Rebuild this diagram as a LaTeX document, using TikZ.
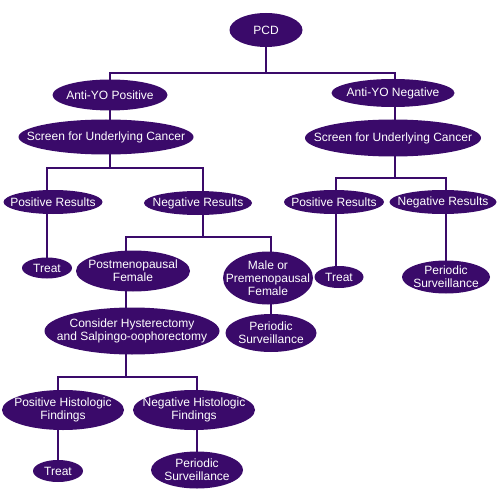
\documentclass[tikz,border=0pt]{standalone}
\usepackage{fontspec}
\setmainfont{Liberation Sans}
\usetikzlibrary{shapes.geometric,backgrounds}
\definecolor{pcdpurple}{HTML}{3A0A6A}
\tikzset{
  bub/.style 2 args={ellipse, fill=pcdpurple, minimum width=#1, minimum height=#2, inner sep=0pt},
  txt/.style={text=white, font=\fontsize{12}{12.8}\selectfont, align=center, inner sep=0pt},
  conn/.style={draw=pcdpurple, line width=1.8pt}
}
\begin{document}
\begin{tikzpicture}[x=1pt,y=-1pt]
\useasboundingbox (0,0) rectangle (500,497);
% level 0
\node[bub={73pt}{34pt}, label={[txt]center:PCD}] (pcd) at (266,30) {};
% level 1
\node[bub={115pt}{31pt}, label={[txt]center:Anti-YO Positive}] (ayp) at (110,95) {};
\node[bub={123pt}{28pt}, label={[txt]center:Anti-YO Negative}] (ayn) at (393,93) {};
% level 2
\node[bub={175pt}{35pt}, label={[txt]center:Screen for Underlying Cancer}] (scl) at (106,137) {};
\node[bub={176pt}{37pt}, label={[txt]center:Screen for Underlying Cancer}] (scr) at (393,138) {};
% level 3 left
\node[bub={99pt}{24pt}, label={[txt]center:Positive Results}] (prl) at (53,202) {};
\node[bub={108pt}{24pt}, label={[txt]center:Negative Results}] (nrl) at (198,203) {};
% level 3 right
\node[bub={100pt}{24pt}, label={[txt]center:Positive Results}] (prr) at (334,202) {};
\node[bub={107pt}{24pt}, label={[txt]center:Negative Results}] (nrr) at (443,202) {};
% level 4
\node[bub={50pt}{21pt}, label={[txt]center:Treat}] (treatl) at (47,268) {};
\node[bub={114pt}{41pt}, label={[txt]center:{Postmenopausal\\Female}}] (pmf) at (133,271) {};
\node[bub={90pt}{53pt}, label={[txt]center:{Male or\\Premenopausal\\Female}}] (mpf) at (268,278) {};
\node[bub={49pt}{22pt}, label={[txt]center:Treat}] (treatr) at (339,277) {};
\node[bub={88pt}{33pt}, label={[txt]center:{Periodic\\Surveillance}}] (psr) at (446,277) {};
% level 5
\node[bub={175pt}{47pt}, label={[txt]center:{Consider Hysterectomy\\and Salpingo-oophorectomy}}] (cons) at (132,331) {};
\node[bub={91pt}{38pt}, label={[txt]center:{Periodic\\Surveillance}}] (psm) at (271,333) {};
% level 6
\node[bub={122pt}{40pt}, label={[txt]center:{Positive Histologic\\Findings}}] (phf) at (63,410) {};
\node[bub={122pt}{40pt}, label={[txt]center:{Negative Histologic\\Findings}}] (nhf) at (194,410) {};
% level 7
\node[bub={50pt}{22pt}, label={[txt]center:Treat}] (treatb) at (58,471) {};
\node[bub={92pt}{37pt}, label={[txt]center:{Periodic\\Surveillance}}] (psb) at (197,470) {};

\coordinate (y1) at (0,73);
\coordinate (y2) at (0,168);
\coordinate (y3) at (0,178);
\coordinate (y4) at (0,237);
\coordinate (y5) at (0,377);

\begin{scope}[on background layer]
% PCD split
\draw[conn] (pcd.center) -- (pcd |- y1);
\draw[conn] ([xshift=0pt]ayp.center) -- (ayp |- y1) -- ([xshift=2pt]ayn |- y1) -- ([xshift=2pt]ayn.center);
% straight links
\draw[conn] ([xshift=2pt]ayn.center) -- ([xshift=2pt]ayn |- scr.center);
\draw[conn] (ayp.center) -- (ayp |- scl.center);
% left screen split
\draw[conn] (ayp |- scl.center) -- (ayp |- y2);
\draw[conn] (treatl.center) -- (treatl |- y2) -- ([xshift=5pt]nrl |- y2) -- ([xshift=5pt]nrl.center);
% right screen split
\draw[conn] ([xshift=2pt]ayn |- scr.center) -- ([xshift=2pt]ayn |- y3);
\draw[conn] ([xshift=-3pt]treatr.center) -- ([xshift=-3pt]treatr |- y3) -- (psr |- y3) -- (psr.center);
% negative results split
\draw[conn] ([xshift=5pt]nrl.center) -- ([xshift=5pt]nrl |- y4);
\draw[conn] ([xshift=-6pt]cons.center) -- ([xshift=-6pt]cons |- y4) -- (psm |- y4) -- (psm.center);
% consider split
\draw[conn] ([xshift=-6pt]cons.center) -- ([xshift=-6pt]cons |- y5);
\draw[conn] (treatb.center) -- (treatb |- y5) -- (psb |- y5) -- (psb.center);
\end{scope}
\end{tikzpicture}
\end{document}
